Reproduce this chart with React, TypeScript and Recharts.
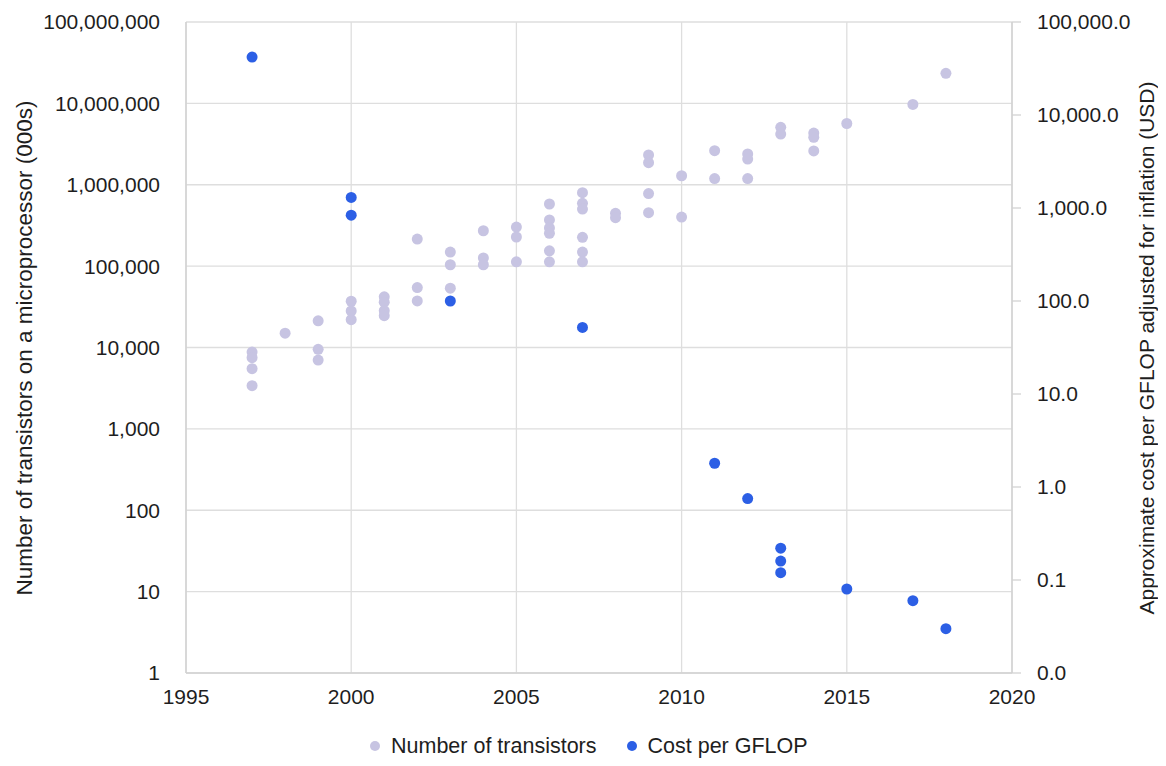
import React from 'react';
import { ScatterChart, Scatter, XAxis, YAxis, CartesianGrid, Legend, Label } from 'recharts';

// ---- data ----
const transistorYears = [
  1997, 1997, 1997, 1997,
  1998,
  1999, 1999, 1999,
  2000, 2000, 2000,
  2001, 2001, 2001, 2001,
  2002, 2002, 2002,
  2003, 2003, 2003,
  2004, 2004, 2004,
  2005, 2005, 2005,
  2006, 2006, 2006, 2006, 2006, 2006,
  2007, 2007, 2007, 2007, 2007, 2007,
  2008, 2008,
  2009, 2009, 2009, 2009,
  2010, 2010,
  2011, 2011,
  2012, 2012, 2012,
  2013, 2013,
  2014, 2014, 2014,
  2015,
  2017,
  2018,
];
const transistorCounts = [
  8800, 7500, 5500, 3400,
  15000,
  21300, 9500, 7000,
  37000, 28100, 22000,
  42000, 36000, 28300, 24600,
  215000, 54500, 37300,
  149000, 104000, 53500,
  272000, 126000, 104000,
  302000, 228000, 113000,
  580000, 369000, 294000, 253000, 154000, 113000,
  798000, 592000, 503000, 226000, 149000, 113000,
  446000, 394000,
  2320000, 1870000, 780000, 454000,
  1290000, 401000,
  2620000, 1190000,
  2390000, 2070000, 1190000,
  5080000, 4200000,
  4320000, 3830000, 2600000,
  5660000,
  9700000,
  23400000,
];
const costYears = [1997, 2000, 2000, 2003, 2007, 2011, 2012, 2013, 2013, 2013, 2015, 2017, 2018];
const costValues = [42000, 1300, 836, 100, 52, 1.8, 0.75, 0.22, 0.16, 0.12, 0.08, 0.06, 0.03];

const xTicks = [1995, 2000, 2005, 2010, 2015, 2020];
const leftTicks = [1, 10, 100, 1000, 10000, 100000, 1000000, 10000000, 100000000];
const rightTicks = [0.01, 0.1, 1, 10, 100, 1000, 10000, 100000];
const seriesNames = ['Number of transistors', 'Cost per GFLOP'];
const leftTitle = 'Number of transistors on a microprocessor (000s)';
const rightTitle = 'Approximate cost per GFLOP adjusted for inflation (USD)';

// ---- styles ----
const FONT = '"Liberation Sans", Arial, Helvetica, sans-serif';
const TEXT = '#1e1e1e';
const LIGHT = '#c7c4e2';
const BLUE = '#2c5fe5';
const GRID = '#dedede';
const AXIS = '#d2d2d2';

const transistorData = transistorYears.map((x, i) => ({ x, y: transistorCounts[i] }));
const costData = costYears.map((x, i) => ({ x, y: costValues[i] }));
const colors = [LIGHT, BLUE];

const fmtLeft = (v: number) => v.toLocaleString('en-US', { maximumFractionDigits: 0 });
const fmtRight = (v: number) =>
  v.toLocaleString('en-US', { minimumFractionDigits: 1, maximumFractionDigits: 1 });

const tickStyle = { fontSize: 21, fill: TEXT, fontFamily: FONT };

const Dot = (color: string) => (props: any) => (
  <circle cx={props.cx} cy={props.cy} r={5.5} fill={color} />
);

const LegendContent = () => (
  <div
    style={{
      display: 'flex',
      alignItems: 'center',
      fontFamily: FONT,
      fontSize: 21.5,
      color: TEXT,
      lineHeight: '24px',
      whiteSpace: 'nowrap',
    }}
  >
    {seriesNames.map((name, i) => (
      <div key={name} style={{ display: 'flex', alignItems: 'center', marginLeft: i === 0 ? 0 : 30 }}>
        <span
          style={{
            display: 'inline-block',
            width: 10,
            height: 10,
            borderRadius: 5,
            background: colors[i],
            marginRight: 11,
          }}
        />
        <span>{name}</span>
      </div>
    ))}
  </div>
);

const CHART_W = 1150;
const CHART_H = 758;

export default function App() {
  return (
    <div style={{ width: CHART_W, height: CHART_H }}>
      <ScatterChart width={CHART_W} height={CHART_H} margin={{ top: 14, right: 0, bottom: 63, left: 0 }}>
        <CartesianGrid xAxisId="x" yAxisId="left" stroke={GRID} strokeWidth={1.3} />
        <XAxis
          xAxisId="x"
          type="number"
          dataKey="x"
          domain={[1995, 2020]}
          ticks={xTicks}
          interval={0}
          allowDataOverflow
          tickLine={false}
          axisLine={{ stroke: AXIS, strokeWidth: 1.5 }}
          tick={tickStyle}
          tickMargin={10}
          height={30}
        />
        <YAxis
          yAxisId="left"
          orientation="left"
          type="number"
          dataKey="y"
          scale="log"
          domain={[1, 100000000]}
          ticks={leftTicks}
          interval={0}
          allowDataOverflow
          tickFormatter={fmtLeft}
          tickLine={false}
          axisLine={{ stroke: AXIS, strokeWidth: 1.5 }}
          tick={tickStyle}
          tickMargin={20}
          width={178}
        >
          <Label
            content={() => (
              <text
                x={16}
                y={340}
                transform="rotate(-90 16 340)"
                textAnchor="middle"
                dominantBaseline="central"
                fontSize={22.5}
                fontFamily={FONT}
                fill={TEXT}
              >
                {leftTitle}
              </text>
            )}
          />
        </YAxis>
        <YAxis
          yAxisId="right"
          orientation="right"
          type="number"
          dataKey="y"
          scale="log"
          domain={[0.01, 100000]}
          ticks={rightTicks}
          interval={0}
          allowDataOverflow
          tickFormatter={fmtRight}
          tickLine={{ stroke: AXIS, strokeWidth: 1.3 }}
          tickSize={9}
          axisLine={{ stroke: AXIS, strokeWidth: 1.5 }}
          tick={tickStyle}
          tickMargin={16}
          width={146}
        >
          <Label
            content={() => (
              <text
                x={1138}
                y={340}
                transform="rotate(-90 1138 340)"
                textAnchor="middle"
                dominantBaseline="central"
                fontSize={21}
                fontFamily={FONT}
                fill={TEXT}
              >
                {rightTitle}
              </text>
            )}
          />
        </YAxis>
        <Legend
          layout="horizontal"
          verticalAlign="middle"
          align="center"
          content={LegendContent}
          wrapperStyle={{ top: 726, left: 362, width: 'auto' }}
        />
        <Scatter
          name={seriesNames[0]}
          data={transistorData}
          xAxisId="x"
          yAxisId="left"
          fill={LIGHT}
          shape={Dot(LIGHT)}
          isAnimationActive={false}
        />
        <Scatter
          name={seriesNames[1]}
          data={costData}
          xAxisId="x"
          yAxisId="right"
          fill={BLUE}
          shape={Dot(BLUE)}
          isAnimationActive={false}
        />
      </ScatterChart>
    </div>
  );
}
